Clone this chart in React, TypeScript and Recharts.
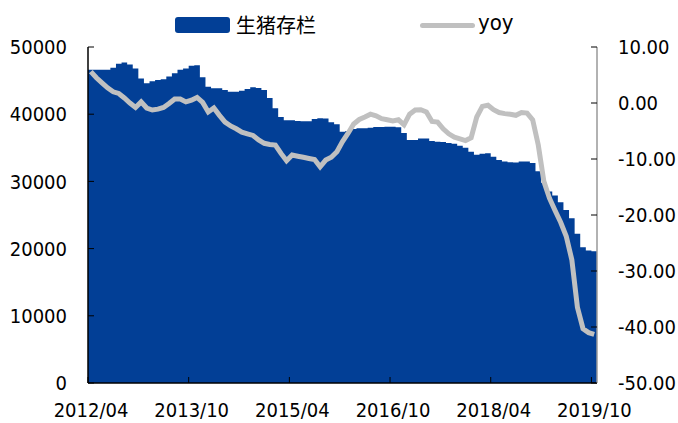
import React from "react";
import {
  ComposedChart,
  Area,
  Line,
  XAxis,
  YAxis,
} from "recharts";

// monthly, 2012/04 .. 2019/10
const startYear = 2012;
const startMonth = 4;

const stock = [
  46600, 46600, 46600, 46600, 46900, 47500, 47700, 47400, 46800, 45300,
  44600, 44900, 45100, 45200, 45600, 46100, 46600, 46800, 47200, 47300,
  45500, 44100, 43850, 43850, 43600, 43350, 43350, 43500, 43750, 44000,
  43900, 43600, 42400, 40900, 39600, 39100, 39100, 39000, 38950, 38950,
  39300, 39400, 39350, 38800, 38500, 37400, 37500, 37800, 37900, 37900,
  38000, 38100, 38100, 38150, 38150, 38050, 37200, 36150, 36150, 36400,
  36400, 36000, 35900, 35850, 35700, 35600, 35300, 35000, 34400, 33950,
  34100, 34200, 33650, 33200, 32950, 32850, 32800, 32950, 32950, 32750,
  31500, 29800, 28500, 27900, 26900, 25750, 24500, 22200, 20200, 19700, 19600,
];

const yoy = [
  5.6, 4.5, 3.6, 2.7, 2.0, 1.7, 0.9, 0.0, -0.8, 0.2,
  -0.9, -1.25, -1.1, -0.8, -0.1, 0.7, 0.7, 0.2, 0.5, 1.0,
  0.1, -1.6, -0.9, -2.2, -3.4, -4.1, -4.6, -5.2, -5.5, -5.8,
  -6.6, -7.2, -7.4, -7.5, -9.0, -10.3, -9.3, -9.5, -9.7, -9.9,
  -10.1, -11.4, -10.2, -9.7, -8.7, -6.9, -5.4, -3.75, -2.95, -2.5,
  -2.0, -2.3, -2.8, -3.0, -3.2, -3.0, -3.9, -2.0, -1.25, -1.2,
  -1.6, -3.3, -3.4, -4.6, -5.5, -6.1, -6.4, -6.7, -6.2, -2.5,
  -0.6, -0.4, -1.2, -1.7, -1.9, -2.0, -2.2, -1.7, -1.8, -3.0,
  -7.5, -14.0, -17.0, -19.2, -21.3, -23.8, -28.0, -36.5, -40.3, -41.0, -41.3,
];

const xTicks = [0, 18, 36, 54, 72, 90];
const leftTicks = [0, 10000, 20000, 30000, 40000, 50000];
const rightTicks = [-50, -40, -30, -20, -10, 0, 10];

const BLUE = "#023F96";
const GRAY = "#C0C0C0";
const FONT = "'DejaVu Sans Condensed', 'Liberation Sans', sans-serif";

const monthLabel = (i: number) => {
  const m = startMonth - 1 + i;
  const y = startYear + Math.floor(m / 12);
  const mm = (m % 12) + 1;
  return `${y}/${mm < 10 ? "0" + mm : mm}`;
};

// points sit in the middle of each month; edge points only extend the stepped fill
const data = [
  { x: 0, stock: stock[0], yoy: null as number | null },
  ...stock.map((v, i) => ({ x: i + 0.5, stock: v, yoy: yoy[i] })),
  { x: stock.length, stock: stock[stock.length - 1], yoy: null as number | null },
];

const tickText = { fill: "#000", fontSize: 20, fontFamily: FONT };

export default function App() {
  return (
    <div style={{ position: "absolute", left: 0, top: 0, width: 678, height: 423, background: "#fff" }}>
      <div style={{ position: "absolute", left: 175, top: 17, width: 55, height: 16, background: BLUE, borderRadius: 3 }} />
      <div
        style={{
          position: "absolute",
          left: 236,
          top: 11,
          fontSize: 20,
          lineHeight: "28px",
          fontFamily: "'Noto Sans CJK SC', sans-serif",
          color: "#000",
        }}
      >
        生猪存栏
      </div>
      <div style={{ position: "absolute", left: 420, top: 23, width: 55, height: 5, background: GRAY, borderRadius: 2.5 }} />
      <div
        style={{
          position: "absolute",
          left: 478,
          top: 8,
          fontSize: 22,
          lineHeight: "30px",
          fontFamily: FONT,
          color: "#000",
        }}
      >
        yoy
      </div>

      <ComposedChart
        width={678}
        height={423}
        data={data}
        margin={{ top: 47, right: 6, bottom: 0, left: 8 }}
      >
        <XAxis
          dataKey="x"
          type="number"
          domain={[0, stock.length]}
          ticks={xTicks}
          tickFormatter={(v: number) => monthLabel(v)}
          height={40}
          tick={{ ...tickText, dx: 3 }}
          tickSize={-6}
          tickMargin={26}
          axisLine={{ stroke: "#000", strokeWidth: 1.5 }}
          tickLine={{ stroke: "#000", strokeWidth: 1 }}
          interval={0}
        />
        <YAxis
          yAxisId="left"
          domain={[0, 50000]}
          ticks={leftTicks}
          width={80}
          tick={tickText}
          tickSize={-6}
          tickMargin={27}
          axisLine={{ stroke: "#000", strokeWidth: 1.5 }}
          tickLine={{ stroke: "#000", strokeWidth: 1 }}
          interval={0}
        />
        <YAxis
          yAxisId="right"
          orientation="right"
          domain={[-50, 10]}
          ticks={rightTicks}
          width={75}
          tick={tickText}
          tickFormatter={(v: number) => v.toFixed(2)}
          tickSize={-6}
          tickMargin={27}
          axisLine={{ stroke: "#999", strokeWidth: 1.5 }}
          tickLine={{ stroke: "#000", strokeWidth: 1 }}
          interval={0}
        />
        <Area
          yAxisId="left"
          type="step"
          dataKey="stock"
          stroke="none"
          fill={BLUE}
          fillOpacity={1}
          isAnimationActive={false}
        />
        <Line
          yAxisId="right"
          type="linear"
          dataKey="yoy"
          stroke={GRAY}
          strokeWidth={5}
          dot={false}
          activeDot={false}
          isAnimationActive={false}
        />
      </ComposedChart>
    </div>
  );
}
